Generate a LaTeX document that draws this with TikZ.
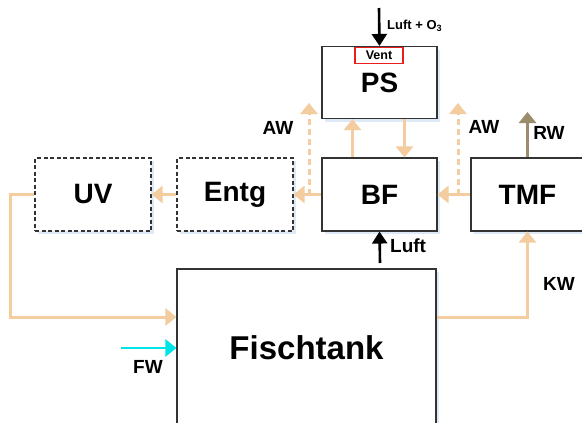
\documentclass[tikz,border=0pt]{standalone}
\usepackage{fontspec}
\setmainfont{Liberation Sans}
\usetikzlibrary{arrows.meta,shadows}
\definecolor{tan}{RGB}{243,205,160}
\definecolor{rwc}{RGB}{156,140,110}
\definecolor{fwc}{RGB}{0,228,232}
\definecolor{glowc}{RGB}{222,233,248}
\definecolor{ventred}{RGB}{235,30,30}
\begin{document}
\begin{tikzpicture}[x=1pt,y=-1pt,
  box/.style={draw=black!80,line width=1.1pt,fill=white,minimum width=115pt,minimum height=72pt,
    inner sep=0pt,font=\fontsize{28}{30}\selectfont\bfseries,
    general shadow={draw=none,fill=glowc,shadow xshift=3pt,shadow yshift=-3pt}},
  dbox/.style={box,dashed,dash pattern=on 4pt off 2.5pt},
  flow/.style={draw=tan,line width=3pt,-{Triangle[width=17pt,length=11pt]}},
  dflow/.style={flow,dash pattern=on 6pt off 4pt},
  blk/.style={draw=black,line width=2.6pt,-{Triangle[width=15pt,length=12pt]}},
  lbl/.style={font=\fontsize{19}{21}\selectfont\bfseries,inner sep=1pt},
  slbl/.style={font=\fontsize{13}{15}\selectfont\bfseries,inner sep=1pt}
]
\useasboundingbox (0,0) rectangle (582,423);
\fill[white] (0,0) rectangle (582,423);

% boxes
\node[box] (PS) at (379.5,82.5) {\raisebox{-8pt}{PS}};
\node[box,minimum height=73pt] (BF) at (379.5,194.5) {BF};
\node[box,minimum width=113pt,minimum height=73pt] (TMF) at (527.5,194.5) {TMF};
\node[dbox,minimum width=116pt,minimum height=73pt] (Entg) at (235,194.5) {Entg};
\node[dbox,minimum width=116pt,minimum height=73pt] (UV) at (93,194.5) {UV};
\node[box,minimum width=259pt,minimum height=158pt,font=\fontsize{33}{35}\selectfont\bfseries] (FT) at (306.5,348) {Fischtank};

% coordinates for free ends
\coordinate (o3t) at (379,8);
\coordinate (luftb) at (380,263);
\coordinate (aw1b) at (309,194.5);
\coordinate (aw1t) at (309,103);
\coordinate (aw2b) at (458,194.5);
\coordinate (aw2t) at (458,103);
\coordinate (rwt) at (527.5,112);
\coordinate (fws) at (121,348);

% tan flows
\draw[flow] (BF.west) -- (Entg.east);
\draw[flow] (TMF.west) -- (BF.east);
\draw[flow] (Entg.west) -- (UV.east);
\draw[flow] (UV.west) -- ++(-24pt,0) |- ([yshift=31pt]FT.west);
\draw[flow] ([yshift=31pt]FT.east) -| (TMF.south);
\draw[flow] ([xshift=-27pt]BF.north) -- ([xshift=-27pt]PS.south);
\draw[flow] ([xshift=25pt]PS.south) -- ([xshift=25pt]BF.north);
\draw[dflow] (aw1b) -- (aw1t);
\draw[dflow] (aw2b) -- (aw2t);

% other flows
\draw[flow,draw=rwc] (TMF.north) -- (rwt);
\draw[flow,draw=fwc,line width=2.6pt] (fws) -- (FT.west);
\draw[blk] (luftb) -- (BF.south);

% vent
\node[draw=ventred,line width=1.2pt,fill=white,minimum width=48pt,minimum height=16pt,inner sep=0pt,
  font=\fontsize{12.5}{14}\selectfont\bfseries,anchor=north] (vent) at (379,47) {Vent};
\draw[blk] (o3t) -- (PS.north);

% labels
\node[slbl,anchor=west] (lo3) at (386,26) {Luft + O\textsubscript{3}};
\node[lbl,anchor=west] (lluft) at (389,246) {Luft};
\node[lbl] (law1) at (278,128) {AW};
\node[lbl] (law2) at (484,127) {AW};
\node[lbl] (lrw) at (549,133) {RW};
\node[lbl] (lkw) at (559,284) {KW};
\node[lbl] (lfw) at (148,367) {FW};
\end{tikzpicture}
\end{document}
